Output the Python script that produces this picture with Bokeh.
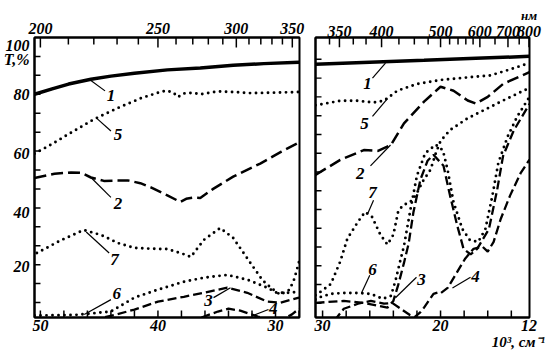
from bokeh.plotting import figure
from bokeh.models import Range1d, LinearAxis, FixedTicker, CustomJSTickFormatter
from bokeh.layouts import row
from bokeh.embed import file_html
from bokeh.resources import INLINE
from bokeh.core.properties import value

FONT = "Liberation Sans Narrow"

# ---------------- data (x in 10^3 cm^-1, y = T, %) ----------------
# left panel (UV)
c1_L_k = [50.5, 49.0, 47.6, 45.7, 44.0, 42.0, 39.2, 36.4, 33.6, 31.0, 28.0]
c1_L_T = [80.0, 81.9, 83.6, 85.3, 86.4, 87.4, 88.6, 89.3, 90.2, 90.8, 91.3]

c5_L_k = [50.5, 49.0, 47.6, 45.4, 43.4, 41.4, 39.8, 39.3, 38.7, 38.3, 37.8, 37.0, 36.4, 34.9, 33.5, 32.1, 30.0, 28.0]
c5_L_T = [59.1, 62.5, 66.0, 71.3, 75.2, 78.7, 80.8, 81.3, 80.6, 79.0, 80.3, 80.5, 80.0, 81.0, 80.8, 80.4, 80.6, 80.8]

c2_L_k = [50.5, 48.8, 47.4, 46.5, 45.7, 44.6, 43.5, 42.5, 41.5, 40.6, 39.2, 38.1, 37.6, 37.0, 36.4, 35.3, 33.6, 31.3, 29.5, 28.0]
c2_L_T = [50.5, 52.0, 52.5, 52.3, 50.7, 49.5, 49.6, 49.6, 48.7, 47.2, 44.4, 42.1, 43.2, 43.6, 43.5, 46.7, 51.0, 55.6, 59.8, 63.0]

c7_L_k = [50.3, 48.2, 46.3, 44.8, 43.4, 42.0, 40.5, 39.2, 38.0, 37.2, 36.1, 34.7, 33.6, 32.7, 31.9, 31.1, 30.4, 29.6, 28.8, 28.4, 28.0]
c7_L_T = [24.1, 28.7, 32.2, 30.4, 27.6, 25.9, 25.6, 25.5, 24.0, 22.7, 28.7, 32.9, 29.4, 24.0, 19.2, 14.5, 11.9, 9.4, 11.2, 15.0, 21.0]

c6_L_k = [50.5, 47.0, 44.0, 42.0, 40.0, 37.8, 36.1, 34.1, 32.4, 30.7, 29.9, 28.8, 28.0]
c6_L_T = [2.1, 2.3, 3.5, 8.4, 11.2, 14.0, 15.4, 16.4, 14.7, 11.9, 10.1, 10.1, 10.5]

c3_L_k = [44.5, 43.5, 42.0, 40.0, 37.8, 36.1, 34.1, 32.4, 30.7, 29.6, 28.0]
c3_L_T = [1.5, 2.5, 4.2, 7.0, 8.7, 10.1, 11.9, 10.1, 7.0, 6.6, 8.4]

c4_L_k = [36.3, 34.9, 34.0, 33.0, 31.5, 30.5, 29.5, 28.6, 28.0]
c4_L_T = [1.4, 3.5, 4.5, 3.8, 1.7, 0.5, 0.5, 2.5, 4.5]

# right panel (visible)
c1_R_k = [30.6, 26.0, 21.4, 17.0, 12.46]
c1_R_T = [91.6, 92.3, 93.0, 93.7, 94.4]

c5_R_k = [30.6, 28.5, 27.0, 25.7, 24.8, 23.65, 22.0, 20.0, 17.2, 15.8, 14.3, 12.46]
c5_R_T = [77.0, 78.6, 78.6, 78.0, 78.6, 82.2, 84.6, 86.0, 87.1, 87.6, 89.5, 92.0]

c2_R_k = [30.6, 28.5, 26.5, 25.3, 24.2, 23.1, 21.4, 20.0, 18.9, 17.7, 17.0, 16.0, 14.7, 12.46]
c2_R_T = [52.3, 57.6, 61.1, 60.8, 62.9, 70.6, 78.3, 83.6, 82.2, 78.7, 77.6, 80.0, 84.6, 88.8]

c7_R_k = [30.6, 30.4, 29.3, 28.5, 27.9, 27.0, 26.4, 25.8, 25.1, 24.5, 24.0, 23.6, 23.2, 22.6, 22.1, 21.5, 20.85, 20.4, 20.0, 19.2, 17.7, 16.4, 14.9, 13.5, 12.46]
c7_R_T = [9.5, 10.0, 13.5, 21.5, 29.6, 35.6, 39.1, 37.3, 31.0, 27.5, 31.0, 39.1, 41.5, 42.5, 45.0, 50.0, 54.1, 60.0, 64.3, 68.2, 72.4, 75.1, 78.3, 81.1, 83.2]

c6_R_k = [30.6, 30.4, 29.3, 28.2, 27.0, 25.9, 24.9, 24.2, 23.8, 23.4, 23.1, 22.55, 22.0, 21.3, 20.4, 19.8, 19.4, 18.9, 18.15, 17.5, 16.8, 16.2, 15.6, 15.1, 14.3, 13.5, 12.46]
c6_R_T = [8.0, 8.6, 10.0, 10.3, 10.3, 10.0, 8.2, 9.3, 15.0, 22.0, 27.0, 40.0, 52.0, 60.0, 63.0, 61.0, 54.0, 42.6, 33.0, 29.0, 28.5, 33.0, 45.0, 56.6, 66.0, 73.0, 80.0]

c3_R_k = [30.6, 28.2, 26.5, 25.3, 24.5, 24.0, 23.6, 23.1, 22.7, 22.3, 21.7, 21.1, 20.6, 19.75, 19.2, 18.6, 18.05, 17.45, 16.9, 15.9, 15.2, 14.7, 13.8, 12.46]
c3_R_T = [6.8, 7.5, 6.8, 5.8, 5.1, 7.5, 13.0, 21.0, 28.0, 39.0, 50.7, 57.3, 59.4, 55.5, 45.0, 34.5, 26.0, 24.0, 26.0, 33.0, 47.0, 59.0, 68.0, 77.5]

c4_R_k = [29.0, 28.2, 27.0, 25.9, 24.8, 24.1, 23.3, 22.6, 22.2, 21.7, 21.4, 20.6, 20.2, 20.0, 19.4, 18.7, 17.9, 17.2, 16.45, 16.0, 15.5, 14.9, 14.1, 13.2, 12.46]
c4_R_T = [0.5, 4.7, 6.5, 7.5, 6.5, 6.8, 4.5, 2.5, 1.7, 3.5, 5.1, 10.0, 10.5, 10.2, 12.1, 17.0, 22.6, 26.0, 26.8, 25.0, 28.5, 36.6, 45.0, 53.0, 57.7]

# axis ticks / labels
y_label_pos = [19.3, 38.5, 59.3, 80.0, 97.2]
y_unit_pos = [92.3]              # where the "T,%" caption sits
y_minor = [i * 20 / 3 for i in range(1, 15)]
bot_L_major = [50, 40, 30]
bot_L_minor = [48, 46, 44, 42, 38, 36, 34, 32, 28]
bot_R_major = [30, 20, 12.5]
bot_R_minor = [28, 26, 24, 22, 18, 16, 14]
bot_R_unit_pos = [13.4]          # where the "10³, см⁻¹" caption sits
top_L_nm_major = [200, 250, 300, 350]
top_L_nm_minor = [210, 220, 230, 240, 260, 270, 280, 290, 310, 320, 330, 340]
top_R_nm_major = [350, 400, 500, 600, 700, 800]
top_R_nm_minor = [340, 365, 380, 425, 450, 475, 520, 540, 560, 580, 650, 750]
top_R_unit_pos = [12.5]          # where the "нм" caption sits

# curve labels: (text, x, y) and leader lines (x0, y0, x1, y1)
lab_L = [("1", 44.0, 79.7), ("5", 43.4, 65.7), ("2", 43.4, 41.6), ("7", 43.7, 22.0),
         ("6", 43.5, 9.8), ("3", 35.7, 7.3), ("4", 30.2, 4.5)]
lead_L = [(45.85, 85.3, 44.5, 81.2), (45.25, 71.7, 44.0, 67.1), (45.7, 50.7, 44.0, 43.7),
          (46.1, 31.5, 44.15, 24.1), (46.27, 2.45, 44.0, 7.7), (35.27, 8.4, 33.83, 11.9),
          (31.9, 2.1, 30.6, 4.2)]
lab_R = [("1", 26.2, 84.6), ("5", 26.45, 70.6), ("2", 26.8, 52.7), ("7", 25.77, 46.1),
         ("6", 25.77, 18.7), ("3", 21.62, 15.2), ("4", 17.04, 16.3)]
lead_R = [(24.67, 92.0, 25.77, 86.7), (24.5, 79.4, 25.77, 73.1), (24.24, 62.9, 25.94, 55.5),
          (25.68, 43.3, 26.19, 38.4), (26.0, 16.6, 26.7, 10.3), (22.04, 15.9, 23.82, 8.6),
          (17.46, 15.9, 18.99, 12.1)]


def nm_to_k(lst):
    return [10000.0 / v for v in lst]


def style_axis(ax, size="16px", standoff=2, rule=True):
    ax.axis_line_color = "black" if rule else None
    ax.axis_line_width = 2
    ax.major_tick_in = 0
    ax.major_tick_out = 0
    ax.minor_tick_in = 0
    ax.minor_tick_out = 0
    ax.major_tick_line_color = None
    ax.minor_tick_line_color = None
    ax.major_label_text_font = FONT
    ax.major_label_text_font_style = "bold italic"
    ax.major_label_text_font_size = size
    ax.major_label_text_color = "black"
    ax.major_label_standoff = standoff


def make_fig(width, height, xr, yr, borders):
    p = figure(width=width, height=height, x_range=Range1d(*xr), y_range=Range1d(*yr),
               output_backend="svg", toolbar_location=None)
    p.min_border_left, p.min_border_right, p.min_border_top, p.min_border_bottom = borders
    p.outline_line_color = "black"
    p.outline_line_width = 2
    p.grid.visible = False
    return p


def tick_quads(p, xr, yr, fw, fh, left_ticks, bottom_ticks, top_major, top_minor):
    """Inward tick marks as thin filled quads (lengths in pixels converted to data units)."""
    ux = abs(xr[0] - xr[1]) / fw          # data units per pixel along x
    uy = abs(yr[1] - yr[0]) / fh          # data units per pixel along y
    sx = 1 if xr[1] > xr[0] else -1       # direction of increasing screen x in data
    q = dict(fill_color="black", line_color=None)
    hw = 0.75
    # left edge, horizontal ticks
    p.quad(left=[xr[0] - sx * 2 * ux] * len(left_ticks), right=[xr[0] + sx * 6 * ux] * len(left_ticks),
           bottom=[t - hw * uy for t in left_ticks], top=[t + hw * uy for t in left_ticks], **q)
    # bottom edge, vertical ticks
    p.quad(left=[t - hw * ux for t in bottom_ticks], right=[t + hw * ux for t in bottom_ticks],
           bottom=[yr[0] - 2 * uy] * len(bottom_ticks), top=[yr[0] + 7 * uy] * len(bottom_ticks), **q)
    # top edge, vertical ticks (major longer)
    p.quad(left=[t - hw * ux for t in top_major], right=[t + hw * ux for t in top_major],
           bottom=[yr[1] - 10 * uy] * len(top_major), top=[yr[1] + 2 * uy] * len(top_major), **q)
    p.quad(left=[t - hw * ux for t in top_minor], right=[t + hw * ux for t in top_minor],
           bottom=[yr[1] - 7 * uy] * len(top_minor), top=[yr[1] + 2 * uy] * len(top_minor), **q)


SOLID = dict(line_color="black", line_width=3.5)
DOT = dict(line_color="black", line_width=2.9, line_dash="0 6", line_cap="round")
LDASH = dict(line_color="black", line_width=2.5, line_dash="12 5")
SDASH = dict(line_color="black", line_width=2.3, line_dash="9 4")
LBL = dict(text_font=value(FONT), text_font_style="bold italic", text_font_size="17px",
           text_align="center", text_baseline="middle", text_color="black")

# ---------------- left panel ----------------
XR1, YR1 = (50.5, 27.96), (1.4, 100)
p1 = make_fig(306, 357, XR1, YR1, (33, 7, 37, 39))

yl = p1.yaxis[0]
yl.ticker = FixedTicker(ticks=y_label_pos + y_unit_pos)
yl.formatter = CustomJSTickFormatter(
    code="if (tick > 90 && tick < 95) { return 'T,%'; } return String(Math.round(tick/20)*20);")
style_axis(yl, standoff=5)

xb1 = p1.xaxis[0]
xb1.ticker = FixedTicker(ticks=bot_L_major)
style_axis(xb1, standoff=2)

xt1 = LinearAxis(ticker=FixedTicker(ticks=nm_to_k(top_L_nm_major)),
                 formatter=CustomJSTickFormatter(code="return String(Math.round(10000/tick))"))
style_axis(xt1, standoff=4)
p1.add_layout(xt1, "above")

tick_quads(p1, XR1, YR1, 266, 281, y_minor, bot_L_major + bot_L_minor,
           nm_to_k(top_L_nm_major), nm_to_k(top_L_nm_minor))

p1.line(c1_L_k, c1_L_T, **SOLID)
p1.line(c5_L_k, c5_L_T, **DOT)
p1.line(c2_L_k, c2_L_T, **LDASH)
p1.line(c7_L_k, c7_L_T, **DOT)
p1.line(c6_L_k, c6_L_T, **DOT)
p1.line(c3_L_k, c3_L_T, **SDASH)
p1.line(c4_L_k, c4_L_T, **SDASH)

p1.segment([a[0] for a in lead_L], [a[1] for a in lead_L], [a[2] for a in lead_L], [a[3] for a in lead_L],
           line_color="black", line_width=1.2)
p1.text([a[1] for a in lab_L], [a[2] for a in lab_L], text=[a[0] for a in lab_L], **LBL)

# ---------------- right panel ----------------
XR2, YR2 = (30.6, 12.46), (1.6, 101.1)
p2 = make_fig(244, 357, XR2, YR2, (9, 21, 33, 40))

yr = p2.yaxis[0]
yr.ticker = FixedTicker(ticks=[])
style_axis(yr, standoff=0)
yr.major_label_text_font_size = "0px"

xb2 = p2.xaxis[0]
xb2.ticker = FixedTicker(ticks=bot_R_major)
xb2.formatter = CustomJSTickFormatter(code="return tick < 13 ? '12' : String(Math.round(tick))")
style_axis(xb2, standoff=2)

xb2u = LinearAxis(ticker=FixedTicker(ticks=bot_R_unit_pos),
                  formatter=CustomJSTickFormatter(code="return '10³, см⁻¹'"))
style_axis(xb2u, size="15px", standoff=0, rule=False)
p2.add_layout(xb2u, "below")

xt2 = LinearAxis(ticker=FixedTicker(ticks=nm_to_k(top_R_nm_major)),
                 formatter=CustomJSTickFormatter(code="return String(Math.round(10000/tick))"))
style_axis(xt2, standoff=1)
p2.add_layout(xt2, "above")

xt2u = LinearAxis(ticker=FixedTicker(ticks=top_R_unit_pos),
                  formatter=CustomJSTickFormatter(code="return 'нм'"))
style_axis(xt2u, size="13px", standoff=0, rule=False)
p2.add_layout(xt2u, "above")

tick_quads(p2, XR2, YR2, 214, 284, y_minor, bot_R_major[:2] + bot_R_minor,
           nm_to_k(top_R_nm_major), nm_to_k(top_R_nm_minor))

p2.line(c1_R_k, c1_R_T, **SOLID)
p2.line(c5_R_k, c5_R_T, **DOT)
p2.line(c2_R_k, c2_R_T, **LDASH)
p2.line(c7_R_k, c7_R_T, **DOT)
p2.line(c6_R_k, c6_R_T, **DOT)
p2.line(c3_R_k, c3_R_T, **SDASH)
p2.line(c4_R_k, c4_R_T, **SDASH)

p2.segment([a[0] for a in lead_R], [a[1] for a in lead_R], [a[2] for a in lead_R], [a[3] for a in lead_R],
           line_color="black", line_width=1.2)
p2.text([a[1] for a in lab_R], [a[2] for a in lab_R], text=[a[0] for a in lab_R], **LBL)

layout = row(p1, p2)
open("out.html", "w").write(file_html(layout, INLINE))
